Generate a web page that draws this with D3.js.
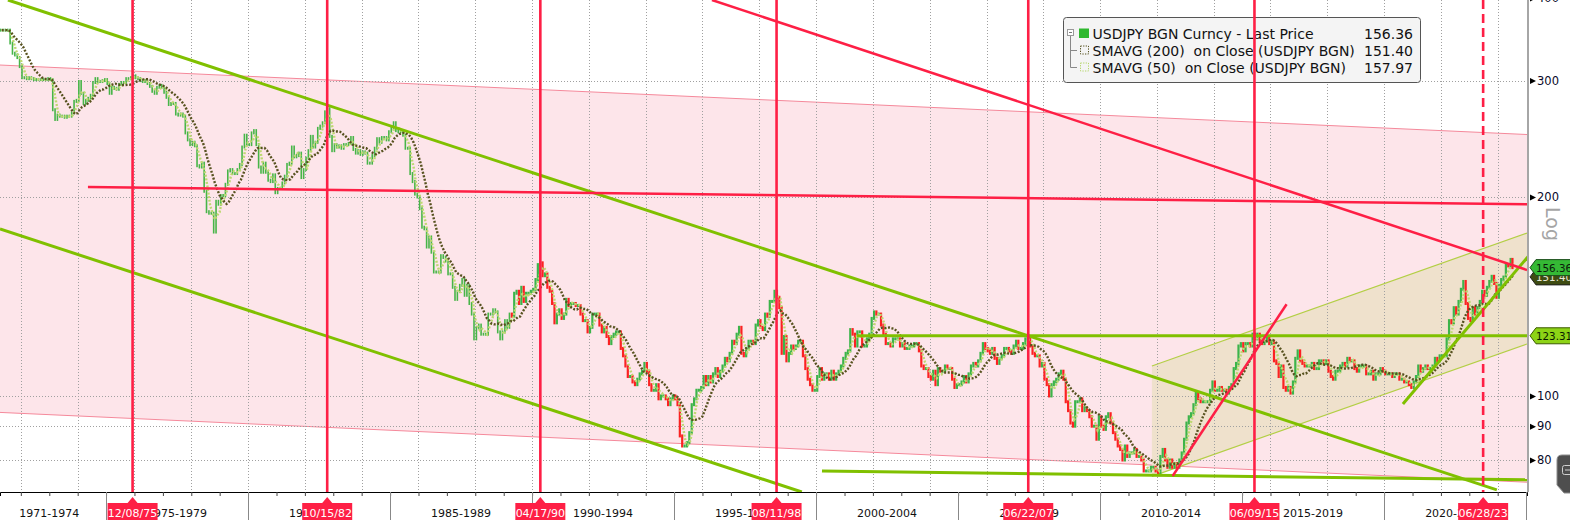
<!DOCTYPE html>
<html><head><meta charset="utf-8">
<script src="https://cdn.jsdelivr.net/npm/d3@7"></script>
<style>
html,body{margin:0;padding:0;background:#fff;overflow:hidden}
svg{display:block}
text{font-family:"DejaVu Sans",sans-serif;white-space:pre}
</style></head><body>
<svg id="c" width="1570" height="520"></svg>
<script>
// ---------------- DATA ----------------
const firstMonth = "1971-04";          // first monthly bar
const lastDate = "2024-07-17";         // date of the last (partial) bar
// USDJPY monthly closes
const close1971to1979 = [
 357.6,357.6,357.6,357.6,342,330,328,325,315,
 303,303,302,303,302,301,301,301,301,301,301,302,
 301,271,262,266,265,265,264,265,265,268,279,280,
 299,287,277,280,282,285,298,302,299,299,300,301,
 297,287,293,292,291,296,298,298,302,302,303,305,
 303,302,300,299,300,297,294,289,287,293,295,293,
 288,283,276,277,277,267,266,267,265,250,244,240,
 242,239,223,222,225,204,190,189,189,177,197,195,
 201,201,209,219,220,217,217,220,224,238,248,240];
const close1980s = [
 240,250,252,240,222,218,225,218,212,211,216,203,
 206,206,210,215,224,225,238,230,231,233,214,220,
 229,235,247,238,242,254,256,259,269,272,247,235,
 240,238,239,237,240,240,241,246,236,233,235,232,
 234,233,225,225,231,237,245,242,246,246,244,251,
 254,259,252,251,251,248,237,237,217,211,202,200,
 192,180,179,168,174,165,154,154,154,163,162,160,
 153,153,146,140,144,147,150,142,147,138,133,122,
 127,128,124,124,124,133,133,135,134,125,122,125,
 130,127,133,132,143,144,138,146,139,143,143,144];
const close1990s = [
 145,150,158,159,152,153,146,144,138,129,133,135,
 131,133,140,137,138,138,137,137,133,130,130,125,
 127,133,133,133,128,125,127,123,120,123,124,125,
 125,118,115,111,107,107,105,104,106,108,109,112,
 109,104,102,102,104,99,100,100,99,97,99,100,
 99,97,87,84,84,85,88,97,99,102,102,103,
 107,104,107,105,108,110,107,109,111,114,113,116,
 121,120,124,127,116,115,118,121,121,120,128,130,
 127,126,133,132,139,139,144,141,136,116,123,113,
 116,119,118,119,121,121,115,110,106,104,102,102];
const close2000s = [
 107,110,106,108,108,106,109,106,108,109,111,114,
 116,117,126,124,119,125,125,119,119,122,124,131,
 134,133,133,128,124,120,120,119,122,122,122,119,
 120,118,118,119,119,120,120,117,111,110,110,107,
 106,109,104,110,109,109,111,110,110,106,103,104,
 104,105,107,105,108,111,112,111,113,116,120,118,
 117,116,118,114,112,114,115,118,118,117,116,119,
 121,118,118,120,122,123,119,116,115,115,111,112,
 106,104,100,104,105,106,108,109,106,98,95,91,
 90,98,98,99,95,96,95,93,90,90,86,93];
const close2010s = [
 90,89,93,94,91,88,86,84,83,80,84,81,
 82,82,83,81,81,80,77,77,77,78,78,77,
 76,81,83,80,78,80,78,79,78,80,82,86,
 91,93,94,97,101,99,98,98,98,98,102,105,
 102,102,103,102,102,101,103,104,110,112,119,120,
 117,120,120,119,124,122,124,121,120,121,123,120,
 121,113,112,107,111,103,102,103,101,105,114,117,
 113,112,111,111,111,112,110,110,113,113,112,113,
 109,107,106,109,109,111,112,111,114,113,113,110,
 109,111,111,111,108,108,109,106,108,108,110,109];
const close2020s = [
 108,108,108,107,108,108,106,106,105,105,104,103,
 105,107,111,109,110,111,110,110,111,114,113,115,
 115,115,122,130,129,136,133,139,145,149,138,131,
 130,136,133,136,139,144,142,146,149,151.7,148,141,
 147,150,151.3,157.8,157.3,160.9,156.36];
const ohlcStart = "1989-04";          // before this only closes are shown (green marks)
const smaLongMonths = 10;            // ~200 trading days
const smaShortMonths = 3;            // ~50 trading days

const yTicks = [80, 90, 100, 200, 300, 400];
const periodStarts = [1971,1975,1980,1985,1990,1995,2000,2005,2010,2015,2020];
const periodLabels = ["1971-1974","1975-1979","1980-1984","1985-1989","1990-1994","1995-1999","2000-2004","2005-2009","2010-2014","2015-2019","2020-2024"];
const eventDates = ["1975-12-08","1982-10-15","1990-04-17","1998-08-11","2007-06-22","2015-06-09","2023-06-28"];
const eventLabels = ["12/08/75","10/15/82","04/17/90","08/11/98","06/22/07","06/09/15","06/28/23"];
const legendNames = ["USDJPY BGN Curncy - Last Price","SMAVG (200)  on Close (USDJPY BGN)","SMAVG (50)  on Close (USDJPY BGN)"];
const legendValues = ["156.36","151.40","157.97"];
const lastPrice = 156.36, lastSmaLong = 151.40, levelLine = 123.31;

// drawn annotations (date, price)
const pinkUpper = [["1971-04-08",316.7],["2025-01-12",248.6]];
const pinkLower = [["1971-04-08",94.42],["2025-01-12",74.04]];
const tanUpper  = [["2011-10-29",111.0],["2025-01-12",176.4]];
const tanLower  = [["2011-10-29",75.57],["2025-01-12",119.85]];
const greenLines = [
  [["1971-07-19",397.2],["2023-12-21",72.08]],
  [["1971-04-08",178.9],["1999-07-02",71.56]],
  [["2000-03-17",76.96],["2025-01-12",74.65]],
  [["2001-06-10",123.31],["2025-01-12",123.31]],
  [["2020-08-30",97.25],["2025-01-25",162.45]]];
const redLines = [
  [["1974-05-13",207.1],["2025-01-12",195.0]],
  [["1996-05-02",397.2],["2025-01-12",155.1]],
  [["2012-07-22",75.65],["2016-07-26",137.6]]];

// ---------------- CHART ----------------
const plotR = 1527, plotB = 492;
const parseDate = d3.timeParse("%Y-%m-%d");
const parseMonth = d3.timeParse("%Y-%m");
const svg = d3.select("#c");
const x = d3.scaleTime().domain([new Date(1971,3,8), new Date(2025,0,12)]).range([0, plotR]);
const y = d3.scaleLog().domain([71.56, 397.2]).range([plotB, 0]);
const P = d => [x(parseDate(d[0])), y(d[1])];

const closes = [].concat(close1971to1979, close1980s, close1990s, close2000s, close2010s, close2020s);
const m0 = parseMonth(firstMonth);
const ohlcDate = parseMonth(ohlcStart);
const bars = closes.map((c, i) => {
  const ms = d3.timeMonth.offset(m0, i);
  let end = new Date(ms.getFullYear(), ms.getMonth() + 1, 0);
  if (i === closes.length - 1) end = parseDate(lastDate);
  const mid = new Date((ms.getTime() + end.getTime()) / 2);
  return {start: ms, mid, end, close: c, open: i > 0 ? closes[i - 1] : c};
});
function sma(n) {
  return bars.map((b, i) => {
    const s = closes.slice(Math.max(0, i - n + 1), i + 1);
    return {date: b.end, v: d3.mean(s)};
  });
}
const smaLong = sma(smaLongMonths), smaShort = sma(smaShortMonths);

svg.append("rect").attr("width",1570).attr("height",520).attr("fill","#fff");
svg.append("defs").append("clipPath").attr("id","plot")
  .append("rect").attr("x",0).attr("y",0).attr("width",plotR).attr("height",plotB);
const g = svg.append("g").attr("clip-path","url(#plot)");
const line = d3.line();

// pink channel
g.append("path").attr("d", line([P(pinkUpper[0]),P(pinkUpper[1]),P(pinkLower[1]),P(pinkLower[0])]) + "Z")
  .attr("fill","#fde5ea");
[pinkUpper, pinkLower].forEach(l => g.append("path").attr("d", line(l.map(P)))
  .attr("stroke","#f5899b").attr("stroke-width",1).attr("fill","none"));
// tan channel
g.append("path").attr("d", line([P(tanUpper[0]),P(tanUpper[1]),P(tanLower[1]),P(tanLower[0])]) + "Z")
  .attr("fill","#efe1cc");
[tanUpper, tanLower].forEach(l => g.append("path").attr("d", line(l.map(P)))
  .attr("stroke","#b3cf45").attr("stroke-width",1.2).attr("fill","none"));

// grid
const gridYears = d3.timeYear.range(new Date(1972,0,1), new Date(2025,0,2), 2);
g.selectAll(".gx").data(gridYears).join("line")
  .attr("x1",d=>Math.round(x(d))+0.5).attr("x2",d=>Math.round(x(d))+0.5).attr("y1",0).attr("y2",plotB)
  .attr("stroke","#a0a0a0").attr("stroke-width",1).attr("stroke-dasharray","1,2");
g.selectAll(".gy").data(yTicks).join("line")
  .attr("x1",0).attr("x2",plotR).attr("y1",d=>Math.round(y(d))+0.5).attr("y2",d=>Math.round(y(d))+0.5)
  .attr("stroke","#a0a0a0").attr("stroke-width",1).attr("stroke-dasharray","1,2");

// price bars
g.selectAll(".bar").data(bars).join("rect")
  .attr("x", d => x(d.mid) - (d.start < ohlcDate ? 0.8 : 1.1))
  .attr("width", d => d.start < ohlcDate ? 1.6 : 2.2)
  .attr("y", d => Math.min(y(d.open), y(d.close)) - 1.5)
  .attr("height", d => Math.abs(y(d.open) - y(d.close)) + 3)
  .attr("fill", d => d.start < ohlcDate ? "#47b548" : (d.close >= d.open ? "#3cb44a" : "#fb2222"));

// SMAs
const smaLine = d3.line().x(d => x(d.date)).y(d => y(d.v));
g.append("path").attr("d", smaLine(smaShort)).attr("fill","none")
  .attr("stroke","#bdd872").attr("stroke-width",2.4).attr("stroke-dasharray","2,1.6");
g.append("path").attr("d", smaLine(smaLong)).attr("fill","none")
  .attr("stroke","#57521f").attr("stroke-width",2.4).attr("stroke-dasharray","2,1.6");

// legend
const lg = svg.append("g");
lg.append("rect").attr("x",1063.5).attr("y",17.5).attr("width",357).attr("height",65).attr("rx",3)
  .attr("fill","#f4f4f4").attr("stroke","#555").attr("stroke-width",1);
lg.append("rect").attr("x",1067.5).attr("y",29.5).attr("width",6).attr("height",6).attr("fill","#fff").attr("stroke","#999");
lg.append("line").attr("x1",1069).attr("x2",1072).attr("y1",32.5).attr("y2",32.5).attr("stroke","#777");
lg.append("path").attr("d","M1070.5,36V67.5H1077M1070.5,50.5H1077").attr("stroke","#888").attr("fill","none");
lg.append("rect").attr("x",1079).attr("y",28.5).attr("width",10).attr("height",9.5).attr("fill","#2fb82f");
lg.append("rect").attr("x",1080.5).attr("y",46).attr("width",8).attr("height",8).attr("fill","none")
  .attr("stroke","#57521f").attr("stroke-dasharray","1.3,1.3");
lg.append("rect").attr("x",1080.5).attr("y",63).attr("width",8).attr("height",8).attr("fill","none")
  .attr("stroke","#b5d66a").attr("stroke-dasharray","1.3,1.3");
legendNames.forEach((n,i) => {
  lg.append("text").attr("x",1092.5).attr("y",38.7 + i*17).attr("font-size",14).attr("fill","#111").text(n);
  lg.append("text").attr("x",1413).attr("y",38.7 + i*17).attr("font-size",14).attr("fill","#111")
    .attr("text-anchor","end").text(legendValues[i]);
});

// trend lines
greenLines.forEach(l => g.append("path").attr("d", line(l.map(P)))
  .attr("stroke","#80c000").attr("stroke-width",3).attr("fill","none"));
redLines.forEach(l => g.append("path").attr("d", line(l.map(P)))
  .attr("stroke","#fe1f45").attr("stroke-width",2.5).attr("fill","none"));
// vertical event lines
svg.selectAll(".ev").data(eventDates).join("line")
  .attr("x1",d=>x(parseDate(d))).attr("x2",d=>x(parseDate(d))).attr("y1",0).attr("y2",plotB)
  .attr("stroke","#fe1f45").attr("stroke-width",2.6)
  .attr("stroke-dasharray",(d,i)=> i === eventDates.length-1 ? "9,5" : null);

// bottom axis: yearly minor ticks
const xAxis = d3.axisBottom(x).tickValues(d3.timeYear.range(new Date(1972,0,1), new Date(2025,0,2)))
  .tickSize(4).tickFormat("");
const xa = svg.append("g").attr("transform",`translate(0,${plotB})`).call(xAxis);
xa.select(".domain").attr("stroke","#000");
xa.selectAll(".tick line").attr("stroke","#444");
// 5-year separators
const sepYears = periodStarts.slice(1).map(yv => new Date(yv,0,1)).concat([new Date(2025,0,1)]);
svg.selectAll(".sep").data(sepYears).join("line")
  .attr("x1",d=>Math.round(x(d))+0.5).attr("x2",d=>Math.round(x(d))+0.5).attr("y1",plotB).attr("y2",520)
  .attr("stroke","#888");
// period labels
svg.selectAll(".pl").data(periodLabels).join("text")
  .attr("x",(d,i)=> (x(new Date(periodStarts[i],0,1)) + x(new Date(i < periodStarts.length-1 ? periodStarts[i+1] : 2025,0,1)))/2)
  .attr("y",517).attr("text-anchor","middle").attr("font-size",11)
  .attr("font-family","DejaVu Sans Condensed").attr("fill","#111").text(d=>d);
// event markers
eventDates.forEach((d,i) => {
  const ex = x(parseDate(d));
  svg.append("path").attr("d",`M${ex-5},503L${ex},497L${ex+5},503Z`).attr("fill","#fe1f45");
  svg.append("rect").attr("x",ex-25).attr("y",503).attr("width",50).attr("height",19).attr("fill","#fe1f45");
  svg.append("text").attr("x",ex).attr("y",517).attr("text-anchor","middle").attr("font-size",11)
    .attr("font-family","DejaVu Sans Condensed").attr("fill","#fff").text(eventLabels[i]);
});

// right axis
const yAxis = d3.axisRight(y).tickValues(yTicks).tickSize(0).tickPadding(9).tickFormat(d3.format("d"));
const ya = svg.append("g").attr("transform",`translate(${plotR+1},0)`).call(yAxis);
ya.select(".domain").attr("stroke","#888").attr("stroke-width",1.5).attr("d",`M0,0V${plotB}`);
ya.selectAll(".tick text").attr("font-size",11.5).attr("font-family","DejaVu Sans Condensed").attr("fill","#0a0a2a");
ya.selectAll(".tick").append("path").attr("d","M2,-3L8,0L2,3Z").attr("fill","#000");

// value flags
function flag(v, fill, stroke, tc, label) {
  const yy = y(v);
  svg.append("path").attr("d",`M${plotR+3},${yy}L${plotR+9},${yy-8}L1572,${yy-8}L1572,${yy+8}L${plotR+9},${yy+8}Z`)
    .attr("fill",fill).attr("stroke",stroke).attr("stroke-width",1);
  svg.append("text").attr("x",plotR+9).attr("y",yy+4.5).attr("font-size",10.3)
    .attr("font-family","DejaVu Sans Condensed").attr("fill",tc).text(label);
}
flag(lastSmaLong, "#3f4c12", "#222", "#e8e8d8", lastSmaLong.toFixed(2));
flag(lastPrice, "#35b935", "#1b4d1b", "#0a1a0a", lastPrice.toFixed(2));
flag(levelLine, "#8dd316", "#3b5a00", "#0a1a00", levelLine.toFixed(2));

// Log label
svg.append("text").attr("transform","translate(1546,224) rotate(90)").attr("text-anchor","middle")
  .attr("font-size",19).attr("fill","#a5a5a5").text("Log");
// small widget bottom right
svg.append("path").attr("d","M1575,455H1562Q1557,455 1557,460V485L1564,493H1575Z")
  .attr("fill","#4e4e4e").attr("stroke","#8c8c8c");
svg.append("rect").attr("x",1562.5).attr("y",465.5).attr("width",10).attr("height",9).attr("rx",2)
  .attr("fill","none").attr("stroke","#d0d0d0");
svg.append("path").attr("d","M1565,470H1570").attr("stroke","#d0d0d0");
</script></body></html>
